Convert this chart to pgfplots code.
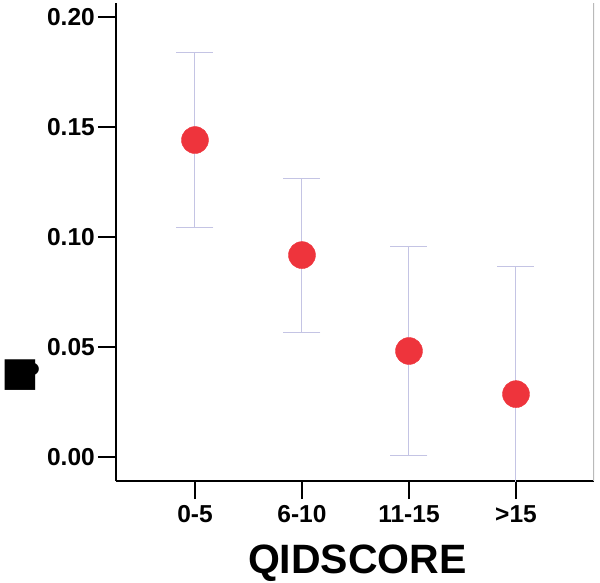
\documentclass[border=0pt]{standalone}
\usepackage{pgfplots}
\pgfplotsset{compat=1.18}
\usepackage{fontspec}
\setmainfont{Liberation Sans}
\newfontfamily\dejavu{DejaVu Sans}
\definecolor{dotred}{RGB}{238,52,60}
\definecolor{barlav}{RGB}{196,196,228}
\definecolor{rgray}{RGB}{185,185,185}
\pgfplotstableread{
x y err
0 0.1441 0.0396
1 0.0918 0.0350
2 0.0482 0.0473
3 0.0286 0.0578
}\datatable
\begin{document}
\begin{tikzpicture}
\path[use as bounding box] (-116pt,-101pt) rectangle (484pt,481pt);
\begin{axis}[
  scale only axis, width=478pt, height=478pt,
  xmin=-0.738, xmax=3.729,
  ymin=-0.0109, ymax=0.2064,
  axis x line*=bottom, axis y line*=left,
  axis line style={black, line width=2.4pt, -},
  xtick={0,1,2,3}, xticklabels={0-5,6-10,11-15,>15},
  ytick={0,0.05,0.10,0.15,0.20},
  yticklabel style={/pgf/number format/fixed, /pgf/number format/fixed zerofill, /pgf/number format/precision=2, inner sep=3pt},
  xticklabel style={inner sep=6pt},
  /pgf/number format/assume math mode=true,
  tick label style={font=\fontsize{24.5}{24.5}\selectfont\bfseries},
  tick align=outside, major tick length=18pt,
  tick style={black, line width=2.4pt},
  xlabel={QIDSCORE},
  xlabel style={font=\fontsize{41}{41}\selectfont\bfseries, at={(axis description cs:0.505,0)}, anchor=base, yshift=-92pt},
  ylabel={\dejavu\bfseries ■\kern-14pt\raisebox{12pt}{\fontsize{16}{16}\selectfont ●}},
  ylabel style={font=\fontsize{40}{40}\selectfont, at={(axis description cs:-0.199,0.222)}, anchor=center, rotate=-90},
]
\addplot[draw=none, mark=none, forget plot,
  error bars/.cd, y dir=both, y explicit,
  error bar style={draw=barlav, line width=1pt},
  error mark=-,
  error mark options={draw=barlav, line width=1pt, mark size=18.5pt, rotate=90}]
  table[x=x, y=y, y error=err] {\datatable};
\addplot[only marks, mark=*, mark size=13.5pt, mark options={fill=dotred, draw=dotred}]
  table[x=x, y=y] {\datatable};
\draw[rgray, line width=1.2pt] (rel axis cs:1,0) -- (rel axis cs:1,1);
\end{axis}
\end{tikzpicture}
\end{document}
